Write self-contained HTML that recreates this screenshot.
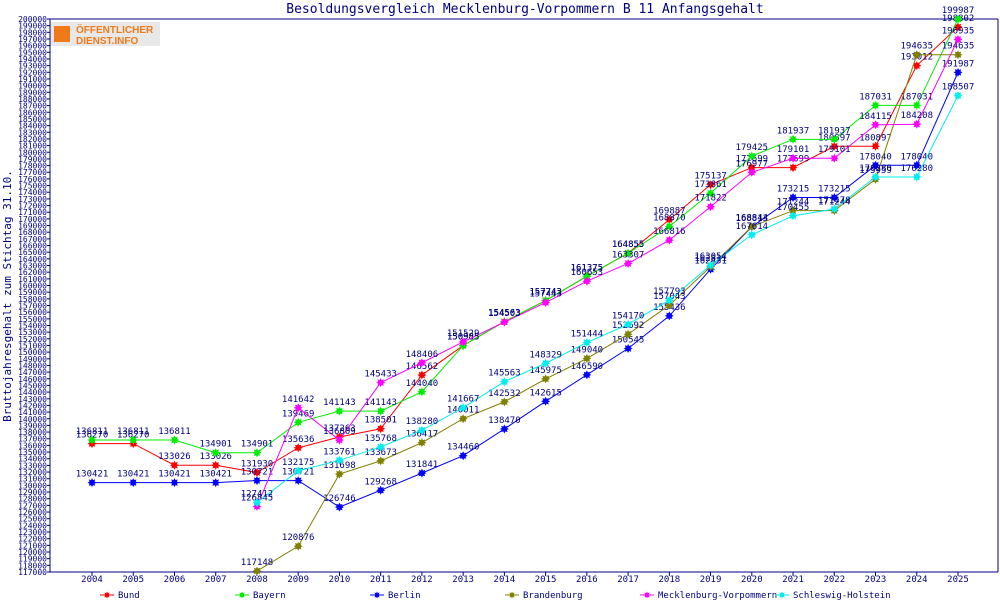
<!DOCTYPE html>
<html><head><meta charset="utf-8"><style>
body{margin:0;background:#fff;}
svg text{font-family:"DejaVu Sans Mono","Liberation Mono",monospace;fill:#000080;}
</style></head><body>
<svg id="c" width="1000" height="600" xmlns="http://www.w3.org/2000/svg">
<text x="525" y="13" font-size="13" text-anchor="middle">Besoldungsvergleich Mecklenburg-Vorpommern B 11 Anfangsgehalt</text>
<text transform="translate(11,296) rotate(-90)" font-size="11" text-anchor="middle">Bruttojahresgehalt zum Stichtag 31.10.</text>
<g>
<rect x="50" y="22" width="110" height="24" fill="#e8e8e8"/>
<rect x="54" y="26" width="16" height="16" fill="#f07a1a"/>
<text x="76" y="33" font-size="10" font-weight="bold" style="fill:#f07a1a;font-family:'Liberation Sans',sans-serif">ÖFFENTLICHER</text>
<text x="76" y="44" font-size="10" font-weight="bold" style="fill:#f07a1a;font-family:'Liberation Sans',sans-serif">DIENST.INFO</text>
</g>
<g id="axes"></g><g id="series"></g><g id="legend"></g>
</svg>
<script>
const years=[2004,2005,2006,2007,2008,2009,2010,2011,2012,2013,2014,2015,2016,2017,2018,2019,2020,2021,2022,2023,2024,2025];
const bund=[136270,136270,133026,133026,131930,135636,137263,138501,146562,150985,154563,157743,161375,164855,169887,175137,177699,177699,180897,180897,193012,198802];
const bayern=[136811,136811,136811,134901,134901,139469,141143,141143,144040,150985,154563,157743,161375,164855,168870,173861,179425,181937,181937,187031,187031,199987];
const berlin=[130421,130421,130421,130421,130721,130721,126746,129268,131841,134460,138470,142615,146590,150545,155436,162431,168813,173215,173215,178040,178040,191987];
const brandenburg=[null,null,null,null,117148,120876,131698,133673,136417,140011,142532,145975,149040,152692,157043,162811,168844,171244,171244,175959,194635,194635];
const mv=[null,null,null,null,126845,141642,136809,145433,148406,151529,154503,157443,160653,163307,166816,171822,176977,179101,179101,184115,184208,196935];
const sh=[null,null,null,null,127412,132175,133761,135768,138280,141667,145563,148329,151444,154170,157793,163054,167614,170455,171478,176280,176280,188507];
const seriesNames=["Bund","Bayern","Berlin","Brandenburg","Mecklenburg-Vorpommern","Schleswig-Holstein"];
const seriesData=[bund,bayern,berlin,brandenburg,mv,sh];
const colors=["#ff0000","#00ee00","#0000ff","#808000","#ff00ff","#00eeee"];
const yMin=117000,yMax=200000;
const NS="http://www.w3.org/2000/svg";
function xS(i){return 92+i*(866/21);}
function yS(v){return 572-(v-yMin)/(yMax-yMin)*553;}
function mk(t,a,p){const e=document.createElementNS(NS,t);for(const k in a)e.setAttribute(k,a[k]);p.appendChild(e);return e;}
const ax=document.getElementById('axes');
let l=mk('line',{x1:50,y1:19,x2:998,y2:19,stroke:'#000080'},ax);


l=mk('line',{x1:998,y1:19,x2:998,y2:572,stroke:'#000080'},ax);


l=mk('line',{x1:50,y1:19,x2:50,y2:572,stroke:'#000080'},ax);


l=mk('line',{x1:50,y1:572,x2:998,y2:572,stroke:'#000080'},ax);


for(let v=yMin;v<=yMax;v+=1000){
 const y=yS(v);
 mk('line',{x1:47,y1:y,x2:50,y2:y,stroke:'#000080'},ax);
 const t=mk('text',{x:47,y:y+3,'font-size':8,'text-anchor':'end'},ax);
 t.textContent=v;
 
 
}
years.forEach((yr,i)=>{
 const x=xS(i);
 mk('line',{x1:x,y1:572,x2:x,y2:576,stroke:'#000080'},ax);
 const t=mk('text',{x:x,y:582,'font-size':9,'text-anchor':'middle'},ax);
 t.textContent=yr;
 
 
});
function star(x,y,r){let p=[];for(let k=0;k<16;k++){const rr=k%2?r*0.6:r;const a=k*Math.PI/8;p.push((x+rr*Math.cos(a)).toFixed(1)+','+(y+rr*Math.sin(a)).toFixed(1));}return p.join(' ');}
const sg=document.getElementById('series');
seriesData.forEach((d,s)=>{
 const g=mk('g',{},sg);
 
 
 let pts=[];d.forEach((v,i)=>{if(v!=null)pts.push(xS(i)+','+yS(v));});
 const pl=mk('polyline',{points:pts.join(' '),fill:'none',stroke:colors[s],'stroke-width':1},g);
 
 
 d.forEach((v,i)=>{if(v==null)return;
  const m=mk('polygon',{points:star(xS(i),yS(v),4.5),fill:colors[s]},g);
  
  
  const t=mk('text',{x:xS(i),y:yS(v)-6,'font-size':9,'text-anchor':'middle'},g);
  t.textContent=v;
  
  
 });
});
const lg=document.getElementById('legend');
seriesNames.forEach((n,s)=>{
 const x=100+s*135;
 const g=mk('g',{},lg);
 
 
 mk('line',{x1:x,y1:595,x2:x+14,y2:595,stroke:colors[s]},g);
 mk('polygon',{points:star(x+7,595,3.5),fill:colors[s]},g);
 const t=mk('text',{x:x+18,y:598,'font-size':9},g);
 t.textContent=n;
});
</script>
</body></html>
